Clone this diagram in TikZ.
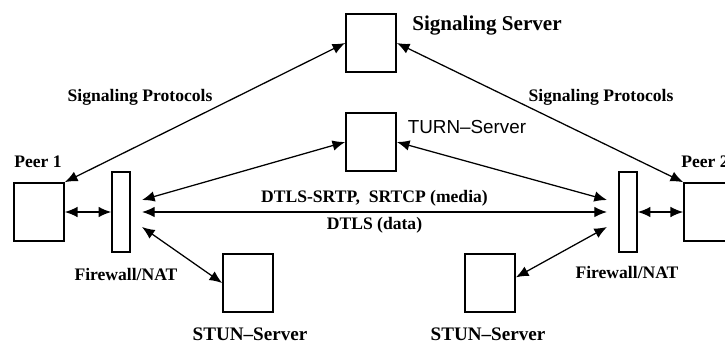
\documentclass[tikz,border=0pt]{standalone}
\usepackage{fontspec}
\setmainfont{Liberation Serif}
\newfontfamily\turnfont[Ligatures=TeX]{Liberation Sans}
\usepackage{tikz}
\usetikzlibrary{arrows.meta, positioning}

\begin{document}
\begin{tikzpicture}[x=0.025cm, y=-0.025cm,
  every node/.style={font=\bfseries\fontsize{12.5}{14}\selectfont},
  box/.style={draw, line width=1.2pt, minimum width=1.25cm, minimum height=1.45cm, inner sep=0pt},
  wall/.style={draw, line width=1.1pt, minimum width=0.45cm, minimum height=2cm, inner sep=0pt},
  link/.style={line width=0.9pt, {Latex[length=9pt,width=7.5pt]}-{Latex[length=9pt,width=7.5pt]}}]
  \useasboundingbox (0,0) rectangle (725,345);

  % boxes
  \node[box] (sig) at (371,43) {};
  \node[box] (turn) at (371,142) {};
  \node[box] (peer1) at (39,212) {};
  \node[box] (peer2) at (709,212) {};
  \node[wall] (fw1) at (121,212) {};
  \node[wall] (fw2) at (628,212) {};
  \node[box] (stun1) at (248,283) {};
  \node[box] (stun2) at (490,283) {};

  % ends beside the firewalls
  \coordinate (fw1a) at (142,200);
  \coordinate (fw1b) at (142,212);
  \coordinate (fw1c) at (142,227);
  \coordinate (fw2a) at (607,200);
  \coordinate (fw2b) at (607,212);
  \coordinate (fw2c) at (607,227);

  % labels
  \node[font=\bfseries\fontsize{15}{17}\selectfont] at (487,26) {Signaling Server};
  \node[font=\turnfont\fontsize{13.4}{15}\selectfont] at (467,127) {TURN\textendash Server};
  \node at (38,162) {Peer 1};
  \node at (705,162) {Peer 2};
  \node at (126,274) {Firewall/NAT};
  \node at (627,272) {Firewall/NAT};
  \node[font=\bfseries\fontsize{13.6}{15}\selectfont] at (250,334) {STUN--Server};
  \node[font=\bfseries\fontsize{13.6}{15}\selectfont] at (488,334) {STUN--Server};
  \node at (140,97) {Signaling Protocols};
  \node at (601,97) {Signaling Protocols};

  % connectors
  \draw[link] (peer1.north east) -- (sig.west);
  \draw[link] (sig.east) -- (peer2.north west);
  \draw[link] (fw1a) -- (turn.west);
  \draw[link] (turn.east) -- (fw2a);
  \draw[link] (fw1b) -- node[above] {DTLS-SRTP,\ \ SRTCP (media)} node[below] {DTLS (data)} (fw2b);
  \draw[link] (fw1c) -- (stun1.west);
  \draw[link] ([yshift=4pt]stun2.east) -- (fw2c);
  \draw[link] (peer1.east) -- (fw1.west);
  \draw[link] (fw2.east) -- (peer2.west);
\end{tikzpicture}
\end{document}
